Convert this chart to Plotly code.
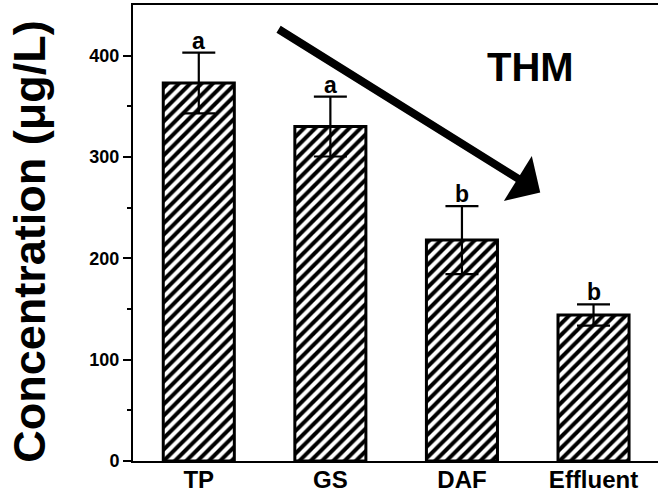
import plotly.graph_objects as go

categories = ["TP", "GS", "DAF", "Effluent"]
values = [373, 330, 218, 144]
errors = [30, 29.5, 33.5, 10.5]
letters = ["a", "a", "b", "b"]
y_ticks = [0, 100, 200, 300, 400]

FONT = "Liberation Sans, Arial, sans-serif"

x_idx = list(range(len(categories)))

fig = go.Figure()
fig.add_trace(go.Bar(
    x=x_idx, y=values, width=0.54,
    marker=dict(color="white",
                line=dict(color="black", width=3),
                pattern=dict(shape="/", size=8, solidity=0.5, fgopacity=1,
                             fgcolor="black", bgcolor="white", fillmode="overlay")),
    error_y=dict(type="data", array=errors, visible=True,
                 color="black", thickness=2.2, width=16.5),
    showlegend=False,
))

for xi, v, e, l in zip(x_idx, values, errors, letters):
    fig.add_annotation(x=xi, y=v + e, text=f"<b>{l}</b>", showarrow=False,
                       yanchor="bottom", yshift=-3,
                       font=dict(family=FONT, size=23, color="black"))

# trend arrow
fig.add_annotation(x=2.595, y=265, ax=0.595, ay=427, xref="x", yref="y",
                   axref="x", ayref="y", showarrow=True, text="",
                   arrowhead=1, arrowwidth=8, arrowsize=1.1, arrowcolor="black",
                   standoff=0)

fig.add_annotation(x=2.52, y=389, text="<b>THM</b>", showarrow=False,
                   xanchor="center", yanchor="middle",
                   font=dict(family=FONT, size=40, color="black"))

fig.add_annotation(x=-0.196, y=0.481, xref="paper", yref="paper",
                   text="<b>Concentration (μg/L)</b>", textangle=-90,
                   showarrow=False, xanchor="center", yanchor="middle",
                   font=dict(family=FONT, size=45, color="black"))

fig.update_xaxes(range=[-0.5, 3.49], tickvals=x_idx, ticktext=[f"<b>{c}</b>" for c in categories],
                 showline=True, linecolor="black", linewidth=2, mirror=True,
                 ticks="", ticklen=0, showgrid=False, zeroline=False,
                 ticklabelstandoff=-4,
                 tickfont=dict(family=FONT, size=24, color="black"))
fig.update_yaxes(range=[0, 450], tickvals=y_ticks, ticktext=[f"<b>{t}</b>" for t in y_ticks],
                 showline=True, linecolor="black", linewidth=2, mirror=False,
                 ticks="outside", ticklen=8, tickwidth=2, tickcolor="black",
                 minor=dict(tickvals=[50, 150, 250, 350], ticks="outside", ticklen=4,
                            tickwidth=2, tickcolor="black"),
                 showgrid=False, zeroline=False,
                 tickfont=dict(family=FONT, size=18, color="black"))

fig.update_layout(width=658, height=495, margin=dict(l=133, r=0, t=5, b=34),
                  plot_bgcolor="white", paper_bgcolor="white", bargap=0.46)

fig.write_html("out.html", config={"displayModeBar": False},
               post_script="document.body.style.margin='0';document.body.style.overflow='hidden';")
